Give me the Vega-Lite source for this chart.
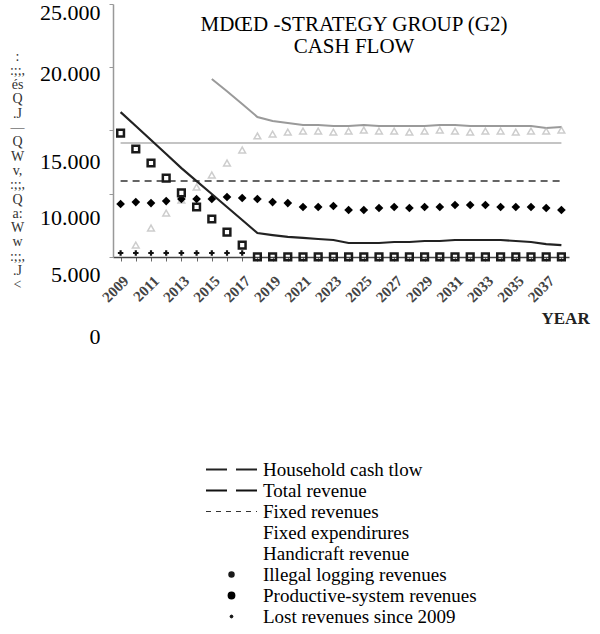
{
  "$schema": "https://vega.github.io/schema/vega-lite/v6.json",
  "width": 456,
  "height": 316,
  "autosize": "none",
  "padding": {"left": 113, "top": 4, "right": 31, "bottom": 314},
  "background": "white",
  "title": {
    "text": ["MDŒD -STRATEGY GROUP (G2)", "CASH FLOW"],
    "font": "Liberation Serif",
    "fontSize": 21,
    "fontWeight": "normal",
    "color": "black",
    "offset": -56,
    "dx": 13,
    "lineHeight": 22,
    "anchor": "middle"
  },
  "config": {"view": {"stroke": null}, "axis": {"grid": false}},
  "data": {
    "values": [
      {"year": 2009, "series": "Household cash tlow", "value": 16450},
      {"year": 2010, "series": "Household cash tlow", "value": 15350},
      {"year": 2011, "series": "Household cash tlow", "value": 14240},
      {"year": 2012, "series": "Household cash tlow", "value": 13130},
      {"year": 2013, "series": "Household cash tlow", "value": 12020},
      {"year": 2014, "series": "Household cash tlow", "value": 10990},
      {"year": 2015, "series": "Household cash tlow", "value": 9970},
      {"year": 2016, "series": "Household cash tlow", "value": 8940},
      {"year": 2017, "series": "Household cash tlow", "value": 7910},
      {"year": 2018, "series": "Household cash tlow", "value": 6880},
      {"year": 2019, "series": "Household cash tlow", "value": 6720},
      {"year": 2020, "series": "Household cash tlow", "value": 6570},
      {"year": 2021, "series": "Household cash tlow", "value": 6490},
      {"year": 2022, "series": "Household cash tlow", "value": 6410},
      {"year": 2023, "series": "Household cash tlow", "value": 6330},
      {"year": 2024, "series": "Household cash tlow", "value": 6090},
      {"year": 2025, "series": "Household cash tlow", "value": 6090},
      {"year": 2026, "series": "Household cash tlow", "value": 6090},
      {"year": 2027, "series": "Household cash tlow", "value": 6170},
      {"year": 2028, "series": "Household cash tlow", "value": 6170},
      {"year": 2029, "series": "Household cash tlow", "value": 6250},
      {"year": 2030, "series": "Household cash tlow", "value": 6250},
      {"year": 2031, "series": "Household cash tlow", "value": 6330},
      {"year": 2032, "series": "Household cash tlow", "value": 6330},
      {"year": 2033, "series": "Household cash tlow", "value": 6330},
      {"year": 2034, "series": "Household cash tlow", "value": 6330},
      {"year": 2035, "series": "Household cash tlow", "value": 6250},
      {"year": 2036, "series": "Household cash tlow", "value": 6170},
      {"year": 2037, "series": "Household cash tlow", "value": 6010},
      {"year": 2038, "series": "Household cash tlow", "value": 5930},

      {"year": 2015, "series": "Total revenue", "value": 19060},
      {"year": 2016, "series": "Total revenue", "value": 18100},
      {"year": 2017, "series": "Total revenue", "value": 17090},
      {"year": 2018, "series": "Total revenue", "value": 16060},
      {"year": 2019, "series": "Total revenue", "value": 15740},
      {"year": 2020, "series": "Total revenue", "value": 15580},
      {"year": 2021, "series": "Total revenue", "value": 15430},
      {"year": 2022, "series": "Total revenue", "value": 15430},
      {"year": 2023, "series": "Total revenue", "value": 15350},
      {"year": 2024, "series": "Total revenue", "value": 15350},
      {"year": 2025, "series": "Total revenue", "value": 15430},
      {"year": 2026, "series": "Total revenue", "value": 15350},
      {"year": 2027, "series": "Total revenue", "value": 15350},
      {"year": 2028, "series": "Total revenue", "value": 15350},
      {"year": 2029, "series": "Total revenue", "value": 15350},
      {"year": 2030, "series": "Total revenue", "value": 15430},
      {"year": 2031, "series": "Total revenue", "value": 15430},
      {"year": 2032, "series": "Total revenue", "value": 15350},
      {"year": 2033, "series": "Total revenue", "value": 15350},
      {"year": 2034, "series": "Total revenue", "value": 15350},
      {"year": 2035, "series": "Total revenue", "value": 15350},
      {"year": 2036, "series": "Total revenue", "value": 15350},
      {"year": 2037, "series": "Total revenue", "value": 15190},
      {"year": 2038, "series": "Total revenue", "value": 15270},

      {"year": 2009, "series": "Fixed revenues", "value": 11000},
      {"year": 2010, "series": "Fixed revenues", "value": 11000},
      {"year": 2011, "series": "Fixed revenues", "value": 11000},
      {"year": 2012, "series": "Fixed revenues", "value": 11000},
      {"year": 2013, "series": "Fixed revenues", "value": 11000},
      {"year": 2014, "series": "Fixed revenues", "value": 11000},
      {"year": 2015, "series": "Fixed revenues", "value": 11000},
      {"year": 2016, "series": "Fixed revenues", "value": 11000},
      {"year": 2017, "series": "Fixed revenues", "value": 11000},
      {"year": 2018, "series": "Fixed revenues", "value": 11000},
      {"year": 2019, "series": "Fixed revenues", "value": 11000},
      {"year": 2020, "series": "Fixed revenues", "value": 11000},
      {"year": 2021, "series": "Fixed revenues", "value": 11000},
      {"year": 2022, "series": "Fixed revenues", "value": 11000},
      {"year": 2023, "series": "Fixed revenues", "value": 11000},
      {"year": 2024, "series": "Fixed revenues", "value": 11000},
      {"year": 2025, "series": "Fixed revenues", "value": 11000},
      {"year": 2026, "series": "Fixed revenues", "value": 11000},
      {"year": 2027, "series": "Fixed revenues", "value": 11000},
      {"year": 2028, "series": "Fixed revenues", "value": 11000},
      {"year": 2029, "series": "Fixed revenues", "value": 11000},
      {"year": 2030, "series": "Fixed revenues", "value": 11000},
      {"year": 2031, "series": "Fixed revenues", "value": 11000},
      {"year": 2032, "series": "Fixed revenues", "value": 11000},
      {"year": 2033, "series": "Fixed revenues", "value": 11000},
      {"year": 2034, "series": "Fixed revenues", "value": 11000},
      {"year": 2035, "series": "Fixed revenues", "value": 11000},
      {"year": 2036, "series": "Fixed revenues", "value": 11000},
      {"year": 2037, "series": "Fixed revenues", "value": 11000},
      {"year": 2038, "series": "Fixed revenues", "value": 11000},

      {"year": 2009, "series": "Fixed expendirures", "value": 14000},
      {"year": 2010, "series": "Fixed expendirures", "value": 14000},
      {"year": 2011, "series": "Fixed expendirures", "value": 14000},
      {"year": 2012, "series": "Fixed expendirures", "value": 14000},
      {"year": 2013, "series": "Fixed expendirures", "value": 14000},
      {"year": 2014, "series": "Fixed expendirures", "value": 14000},
      {"year": 2015, "series": "Fixed expendirures", "value": 14000},
      {"year": 2016, "series": "Fixed expendirures", "value": 14000},
      {"year": 2017, "series": "Fixed expendirures", "value": 14000},
      {"year": 2018, "series": "Fixed expendirures", "value": 14000},
      {"year": 2019, "series": "Fixed expendirures", "value": 14000},
      {"year": 2020, "series": "Fixed expendirures", "value": 14000},
      {"year": 2021, "series": "Fixed expendirures", "value": 14000},
      {"year": 2022, "series": "Fixed expendirures", "value": 14000},
      {"year": 2023, "series": "Fixed expendirures", "value": 14000},
      {"year": 2024, "series": "Fixed expendirures", "value": 14000},
      {"year": 2025, "series": "Fixed expendirures", "value": 14000},
      {"year": 2026, "series": "Fixed expendirures", "value": 14000},
      {"year": 2027, "series": "Fixed expendirures", "value": 14000},
      {"year": 2028, "series": "Fixed expendirures", "value": 14000},
      {"year": 2029, "series": "Fixed expendirures", "value": 14000},
      {"year": 2030, "series": "Fixed expendirures", "value": 14000},
      {"year": 2031, "series": "Fixed expendirures", "value": 14000},
      {"year": 2032, "series": "Fixed expendirures", "value": 14000},
      {"year": 2033, "series": "Fixed expendirures", "value": 14000},
      {"year": 2034, "series": "Fixed expendirures", "value": 14000},
      {"year": 2035, "series": "Fixed expendirures", "value": 14000},
      {"year": 2036, "series": "Fixed expendirures", "value": 14000},
      {"year": 2037, "series": "Fixed expendirures", "value": 14000},
      {"year": 2038, "series": "Fixed expendirures", "value": 14000},

      {"year": 2009, "series": "Handicraft revenue", "value": 5300},
      {"year": 2010, "series": "Handicraft revenue", "value": 5300},
      {"year": 2011, "series": "Handicraft revenue", "value": 5300},
      {"year": 2012, "series": "Handicraft revenue", "value": 5300},
      {"year": 2013, "series": "Handicraft revenue", "value": 5300},
      {"year": 2014, "series": "Handicraft revenue", "value": 5300},
      {"year": 2015, "series": "Handicraft revenue", "value": 5300},
      {"year": 2016, "series": "Handicraft revenue", "value": 5300},
      {"year": 2017, "series": "Handicraft revenue", "value": 5300},

      {"year": 2009, "series": "Illegal logging revenues", "value": 14790},
      {"year": 2010, "series": "Illegal logging revenues", "value": 13530},
      {"year": 2011, "series": "Illegal logging revenues", "value": 12420},
      {"year": 2012, "series": "Illegal logging revenues", "value": 11230},
      {"year": 2013, "series": "Illegal logging revenues", "value": 10050},
      {"year": 2014, "series": "Illegal logging revenues", "value": 8940},
      {"year": 2015, "series": "Illegal logging revenues", "value": 7990},
      {"year": 2016, "series": "Illegal logging revenues", "value": 6960},
      {"year": 2017, "series": "Illegal logging revenues", "value": 5930},
      {"year": 2018, "series": "Illegal logging revenues", "value": 5000},
      {"year": 2019, "series": "Illegal logging revenues", "value": 5000},
      {"year": 2020, "series": "Illegal logging revenues", "value": 5000},
      {"year": 2021, "series": "Illegal logging revenues", "value": 5000},
      {"year": 2022, "series": "Illegal logging revenues", "value": 5000},
      {"year": 2023, "series": "Illegal logging revenues", "value": 5000},
      {"year": 2024, "series": "Illegal logging revenues", "value": 5000},
      {"year": 2025, "series": "Illegal logging revenues", "value": 5000},
      {"year": 2026, "series": "Illegal logging revenues", "value": 5000},
      {"year": 2027, "series": "Illegal logging revenues", "value": 5000},
      {"year": 2028, "series": "Illegal logging revenues", "value": 5000},
      {"year": 2029, "series": "Illegal logging revenues", "value": 5000},
      {"year": 2030, "series": "Illegal logging revenues", "value": 5000},
      {"year": 2031, "series": "Illegal logging revenues", "value": 5000},
      {"year": 2032, "series": "Illegal logging revenues", "value": 5000},
      {"year": 2033, "series": "Illegal logging revenues", "value": 5000},
      {"year": 2034, "series": "Illegal logging revenues", "value": 5000},
      {"year": 2035, "series": "Illegal logging revenues", "value": 5000},
      {"year": 2036, "series": "Illegal logging revenues", "value": 5000},
      {"year": 2037, "series": "Illegal logging revenues", "value": 5000},
      {"year": 2038, "series": "Illegal logging revenues", "value": 5000},

      {"year": 2009, "series": "Productive-system revenues", "value": 9180},
      {"year": 2010, "series": "Productive-system revenues", "value": 9330},
      {"year": 2011, "series": "Productive-system revenues", "value": 9250},
      {"year": 2012, "series": "Productive-system revenues", "value": 9410},
      {"year": 2013, "series": "Productive-system revenues", "value": 9570},
      {"year": 2014, "series": "Productive-system revenues", "value": 9570},
      {"year": 2015, "series": "Productive-system revenues", "value": 9570},
      {"year": 2016, "series": "Productive-system revenues", "value": 9730},
      {"year": 2017, "series": "Productive-system revenues", "value": 9650},
      {"year": 2018, "series": "Productive-system revenues", "value": 9570},
      {"year": 2019, "series": "Productive-system revenues", "value": 9330},
      {"year": 2020, "series": "Productive-system revenues", "value": 9250},
      {"year": 2021, "series": "Productive-system revenues", "value": 8940},
      {"year": 2022, "series": "Productive-system revenues", "value": 8940},
      {"year": 2023, "series": "Productive-system revenues", "value": 9020},
      {"year": 2024, "series": "Productive-system revenues", "value": 8700},
      {"year": 2025, "series": "Productive-system revenues", "value": 8700},
      {"year": 2026, "series": "Productive-system revenues", "value": 8860},
      {"year": 2027, "series": "Productive-system revenues", "value": 8940},
      {"year": 2028, "series": "Productive-system revenues", "value": 8860},
      {"year": 2029, "series": "Productive-system revenues", "value": 8940},
      {"year": 2030, "series": "Productive-system revenues", "value": 8940},
      {"year": 2031, "series": "Productive-system revenues", "value": 9100},
      {"year": 2032, "series": "Productive-system revenues", "value": 9100},
      {"year": 2033, "series": "Productive-system revenues", "value": 9100},
      {"year": 2034, "series": "Productive-system revenues", "value": 8940},
      {"year": 2035, "series": "Productive-system revenues", "value": 8940},
      {"year": 2036, "series": "Productive-system revenues", "value": 8940},
      {"year": 2037, "series": "Productive-system revenues", "value": 8860},
      {"year": 2038, "series": "Productive-system revenues", "value": 8700},

      {"year": 2010, "series": "Lost revenues since 2009", "value": 5930},
      {"year": 2011, "series": "Lost revenues since 2009", "value": 7280},
      {"year": 2012, "series": "Lost revenues since 2009", "value": 8460},
      {"year": 2013, "series": "Lost revenues since 2009", "value": 9490},
      {"year": 2014, "series": "Lost revenues since 2009", "value": 10520},
      {"year": 2015, "series": "Lost revenues since 2009", "value": 11470},
      {"year": 2016, "series": "Lost revenues since 2009", "value": 12420},
      {"year": 2017, "series": "Lost revenues since 2009", "value": 13450},
      {"year": 2018, "series": "Lost revenues since 2009", "value": 14560},
      {"year": 2019, "series": "Lost revenues since 2009", "value": 14710},
      {"year": 2020, "series": "Lost revenues since 2009", "value": 14870},
      {"year": 2021, "series": "Lost revenues since 2009", "value": 14950},
      {"year": 2022, "series": "Lost revenues since 2009", "value": 14950},
      {"year": 2023, "series": "Lost revenues since 2009", "value": 14870},
      {"year": 2024, "series": "Lost revenues since 2009", "value": 14950},
      {"year": 2025, "series": "Lost revenues since 2009", "value": 15030},
      {"year": 2026, "series": "Lost revenues since 2009", "value": 14950},
      {"year": 2027, "series": "Lost revenues since 2009", "value": 14950},
      {"year": 2028, "series": "Lost revenues since 2009", "value": 14870},
      {"year": 2029, "series": "Lost revenues since 2009", "value": 14950},
      {"year": 2030, "series": "Lost revenues since 2009", "value": 15030},
      {"year": 2031, "series": "Lost revenues since 2009", "value": 14950},
      {"year": 2032, "series": "Lost revenues since 2009", "value": 14870},
      {"year": 2033, "series": "Lost revenues since 2009", "value": 14950},
      {"year": 2034, "series": "Lost revenues since 2009", "value": 14950},
      {"year": 2035, "series": "Lost revenues since 2009", "value": 14870},
      {"year": 2036, "series": "Lost revenues since 2009", "value": 14950},
      {"year": 2037, "series": "Lost revenues since 2009", "value": 14950},
      {"year": 2038, "series": "Lost revenues since 2009", "value": 15030}
    ]
  },
  "encoding": {
    "y": {
      "field": "value",
      "type": "quantitative",
      "scale": {"domain": [0, 25000], "nice": false, "zero": true},
      "axis": {
        "values": [0, 5000, 10000, 15000, 20000, 25000],
        "labelExpr": "replace(format(datum.value, ',d'), ',', '.')",
        "labelFont": "Liberation Serif",
        "labelFontSize": 22,
        "labelColor": "black",
        "labelPadding": 9,
        "labelOffset": {"expr": "datum.value == 15000 ? 31 : datum.value == 10000 ? 24 : datum.value == 5000 ? 18 : datum.value == 0 ? 16 : datum.value == 25000 ? 8 : 6"},
        "tickSize": 4,
        "tickColor": {"expr": "datum.value == 0 ? 'transparent' : '#999999'"},
        "domainColor": "#999999",
        "domainWidth": 1.5,
        "domainDash": [0, 63.2, 253, 2],
        "title": [":", ":;;,", "és", "Q", ".J", " ", "—", "Q", "W", "v,", ":;;,", " ", "Q", "a:", "W", "w", ":;;,", ".J", "<"],
        "titleAngle": 0,
        "titleX": -96,
        "titleY": 45,
        "titleAlign": "center",
        "titleBaseline": "top",
        "titleFont": "Liberation Serif",
        "titleFontSize": 14,
        "titleFontWeight": "normal",
        "titleColor": "#333333",
        "titleLineHeight": 14.3
      }
    },
    "color": {
      "field": "series",
      "type": "nominal",
      "scale": {
        "domain": ["Household cash tlow", "Total revenue", "Fixed revenues", "Fixed expendirures", "Handicraft revenue", "Illegal logging revenues", "Productive-system revenues", "Lost revenues since 2009"],
        "range": ["#222222", "#111111", "#333333", "#111111", "#111111", "#1a1a1a", "#000000", "#111111"]
      },
      "legend": {
        "orient": "none",
        "legendX": 93,
        "legendY": 456,
        "title": null,
        "padding": 0,
        "labelFont": "Liberation Serif",
        "labelFontSize": 19,
        "labelColor": "black",
        "labelOffset": 22,
        "symbolOffset": 16,
        "labelLimit": 400,
        "symbolSize": 100,
        "symbolType": "stroke",
        "clipHeight": 19,
        "rowPadding": 1,
        "encode": {
          "symbols": {
            "update": {
              "shape": {"signal": "indexof(['Household cash tlow','Total revenue','Fixed revenues'], datum.value) >= 0 ? 'stroke' : 'circle'"},
              "size": {"signal": "indexof(['Household cash tlow','Total revenue','Fixed revenues'], datum.value) >= 0 ? 2601 : datum.value == 'Illegal logging revenues' ? 20 : datum.value == 'Productive-system revenues' ? 34 : 8"},
              "strokeDash": {"signal": "datum.value == 'Fixed revenues' ? [5,5] : [21,9]"},
              "strokeWidth": {"signal": "datum.value == 'Fixed revenues' ? 1.2 : datum.value == 'Lost revenues since 2009' ? 1 : 2"},
              "stroke": {"value": "black"},
              "opacity": {"signal": "indexof(['Fixed expendirures','Handicraft revenue'], datum.value) >= 0 ? 0 : 1"}
            }
          }
        }
      }
    }
  },
  "layer": [
    {
      "transform": [{"filter": "datum.series == 'Fixed expendirures'"}],
      "mark": {"type": "line", "strokeWidth": 1.5},
      "encoding": {
        "color": {"value": "#b0b0b0"},
        "x": {
          "field": "year",
          "type": "ordinal",
          "scale": {"type": "point", "padding": 0.5},
          "axis": {
            "title": "YEAR",
            "offset": -63,
            "labelAngle": -45,
            "labelExpr": "datum.value % 2 == 1 ? datum.label : ''",
            "labelFont": "Liberation Serif",
            "labelFontSize": 15,
            "labelFontWeight": "bold",
            "labelColor": "#444444",
            "labelPadding": 12,
            "tickSize": 4,
            "tickColor": "#666666",
            "domainColor": "#444444",
            "domainWidth": 1.5,
            "titleFont": "Liberation Serif",
            "titleFontSize": 17,
            "titleFontWeight": "bold",
            "titleColor": "#222222",
            "titleAnchor": "start",
            "titleAlign": "left",
            "titleBaseline": "middle",
            "titleX": 428,
            "titleY": 61
          }
        }
      }
    },
    {
      "transform": [{"filter": "datum.series == 'Total revenue'"}],
      "mark": {"type": "line", "strokeWidth": 2},
      "encoding": {"x": {"field": "year", "type": "ordinal"}, "color": {"value": "#9a9a9a"}}
    },
    {
      "transform": [{"filter": "datum.series == 'Lost revenues since 2009'"}],
      "mark": {"type": "point", "shape": "triangle-up", "filled": false, "size": 45, "strokeWidth": 1.5},
      "encoding": {"x": {"field": "year", "type": "ordinal"}, "color": {"value": "#b8b8b8"}}
    },
    {
      "transform": [{"filter": "datum.series == 'Fixed revenues'"}],
      "mark": {"type": "line", "strokeWidth": 1.5, "strokeDash": [7, 5]},
      "encoding": {"x": {"field": "year", "type": "ordinal"}}
    },
    {
      "transform": [{"filter": "datum.series == 'Household cash tlow'"}],
      "mark": {"type": "line", "strokeWidth": 2.2},
      "encoding": {"x": {"field": "year", "type": "ordinal"}}
    },
    {
      "transform": [{"filter": "datum.series == 'Productive-system revenues'"}],
      "mark": {"type": "point", "shape": "diamond", "filled": true, "size": 75, "opacity": 1},
      "encoding": {"x": {"field": "year", "type": "ordinal"}}
    },
    {
      "transform": [{"filter": "datum.series == 'Illegal logging revenues'"}],
      "mark": {"type": "point", "shape": "square", "filled": false, "size": 45, "strokeWidth": 2.5, "opacity": 1},
      "encoding": {"x": {"field": "year", "type": "ordinal"}}
    },
    {
      "transform": [{"filter": "datum.series == 'Handicraft revenue'"}],
      "mark": {"type": "point", "shape": "cross", "filled": true, "size": 30, "opacity": 1},
      "encoding": {"x": {"field": "year", "type": "ordinal"}}
    }
  ]
}
